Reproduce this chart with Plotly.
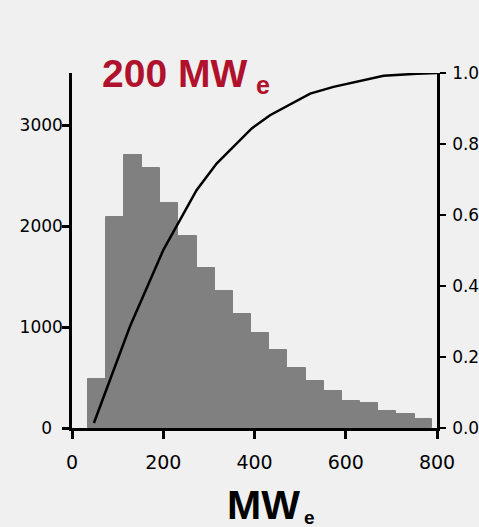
import plotly.graph_objects as go

# Histogram: bin centres (MWe) and counts
bin_centers = [54, 94, 134, 173, 213, 253, 293, 333, 372, 412, 452, 492, 532, 571, 611, 651, 691, 731, 770]
bin_width = 39.8
counts = [490, 2090, 2700, 2575, 2225, 1905, 1590, 1355, 1130, 945, 775, 590, 465, 362, 272, 250, 165, 138, 86]

# Cumulative curve (right axis)
cdf_x = [48, 127, 200, 273, 317, 394, 434, 522, 573, 683, 756, 800]
cdf_y = [0.014, 0.286, 0.501, 0.670, 0.745, 0.844, 0.881, 0.942, 0.961, 0.992, 0.998, 1.0]

left_ticks = [0, 1000, 2000, 3000]
left_text = ["0\u00a0\u00a0", "1000", "2000", "3000"]
right_ticks = [0, 0.2, 0.4, 0.6, 0.8, 1.0]
x_ticks = [0, 200, 400, 600, 800]

RED = "#B0112C"

fig = go.Figure()
fig.add_trace(go.Bar(x=bin_centers, y=counts, width=bin_width,
                     marker=dict(color="#808080", line=dict(width=1, color="#808080")),
                     showlegend=False))
fig.add_trace(go.Scatter(x=cdf_x, y=cdf_y, yaxis="y2", mode="lines",
                         line=dict(color="black", width=2.5), showlegend=False))

tickfont = dict(family="DejaVu Sans", size=17, color="black")
fig.update_layout(
    width=479, height=527,
    margin=dict(l=72, r=42, t=73, b=99, autoexpand=False),
    paper_bgcolor="#F0F0F0", plot_bgcolor="#F0F0F0",
    bargap=0,
    xaxis=dict(range=[0, 800], tickvals=x_ticks, showgrid=False, zeroline=False,
               automargin=False,
               showline=True, linecolor="black", linewidth=2.5,
               ticks="outside", ticklen=8, tickwidth=2.5, tickcolor="black",
               tickfont=dict(family="DejaVu Sans", size=19, color="black"),
               ticklabelstandoff=7),
    yaxis=dict(range=[0, 3517], tickvals=left_ticks, ticktext=left_text,
               showgrid=False, zeroline=False, automargin=False,
               showline=True, linecolor="black", linewidth=2.5,
               ticks="outside", ticklen=7, tickwidth=2.5, tickcolor="black",
               tickfont=tickfont, ticklabelstandoff=-4),
    yaxis2=dict(range=[0, 1], overlaying="y", side="right", tickvals=right_ticks,
                tickformat=".1f", showgrid=False, zeroline=False, automargin=False,
                showline=True, linecolor="black", linewidth=2.5,
                ticks="outside", ticklen=6, tickwidth=2, tickcolor="black",
                tickfont=tickfont, ticklabelstandoff=3),
    annotations=[
        dict(text="<b>200 MW</b>", xref="paper", yref="paper",
             x=0.076, y=1.0655, xanchor="left", yanchor="top", showarrow=False,
             font=dict(family="Liberation Sans", size=39, color=RED)),
        dict(text="<b>e</b>", xref="paper", yref="paper",
             x=0.4974, y=1.0104, xanchor="left", yanchor="top", showarrow=False,
             font=dict(family="Liberation Sans", size=25, color=RED)),
        dict(text="<b>MW</b>", xref="paper", yref="paper",
             x=0.419, y=-0.146, xanchor="left", yanchor="top", showarrow=False,
             font=dict(family="Liberation Sans", size=41, color="black")),
        dict(text="<b>e</b>", xref="paper", yref="paper",
             x=0.6315, y=-0.2157, xanchor="left", yanchor="top", showarrow=False,
             font=dict(family="Liberation Sans", size=19, color="black")),
    ],
)

fig.write_html("out.html")
